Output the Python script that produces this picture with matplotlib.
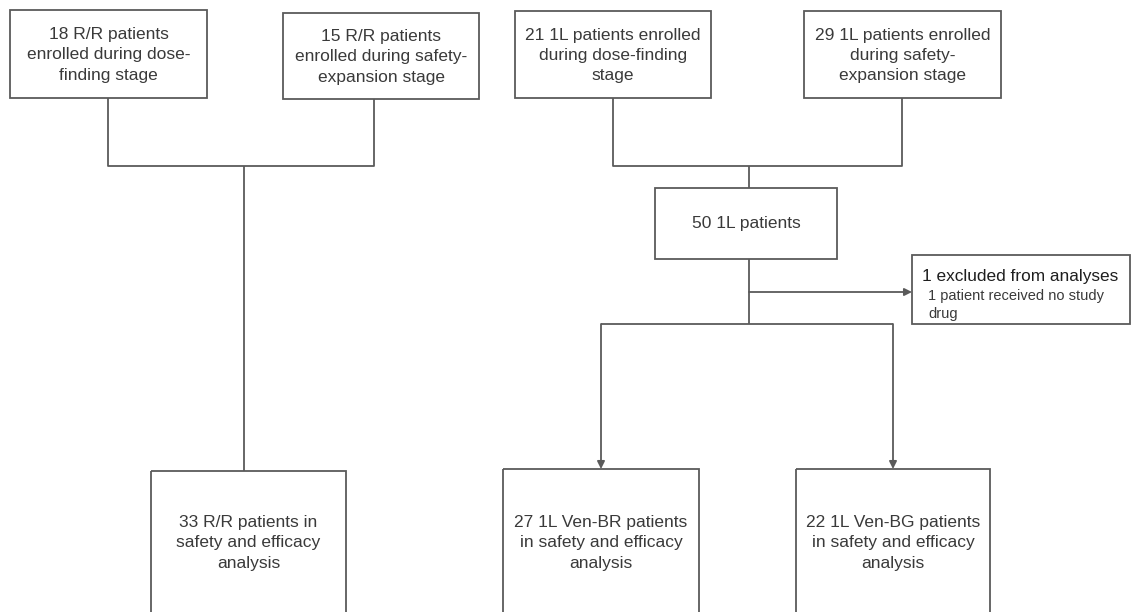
import matplotlib.pyplot as plt
from matplotlib.patches import Rectangle

# box texts
top_labels = [
    "18 R/R patients\nenrolled during dose-\nfinding stage",
    "15 R/R patients\nenrolled during safety-\nexpansion stage",
    "21 1L patients enrolled\nduring dose-finding\nstage",
    "29 1L patients enrolled\nduring safety-\nexpansion stage",
]
pooled_label = "50 1L patients"
excluded_title = "1 excluded from analyses"
excluded_detail = "1 patient received no study\ndrug"
bottom_labels = [
    "33 R/R patients in\nsafety and efficacy\nanalysis",
    "27 1L Ven-BR patients\nin safety and efficacy\nanalysis",
    "22 1L Ven-BG patients\nin safety and efficacy\nanalysis",
]

# layout in pixels (x0, y0, x1, y1), y grows downward
top_boxes = [(10, 10, 207, 98), (283, 13, 479, 99), (515, 11, 711, 98), (804, 11, 1001, 98)]
pooled_box = (655, 188, 837, 259)
excluded_box = (912, 255, 1130, 324)
bottom_boxes = [(151, 471, 346, 625), (503, 469, 699, 625), (796, 469, 990, 625)]

line_col = "#5a5a5a"
text_col = "#3a3a3a"
lw = 1.3

plt.rcParams['font.family'] = ['Liberation Sans', 'DejaVu Sans']

fig = plt.figure(figsize=(11.32, 6.12), dpi=100)
ax = fig.add_axes([0, 0, 1, 1])
ax.set_xlim(0, 1132)
ax.set_ylim(612, 0)
ax.axis('off')


def box(b):
    x0, y0, x1, y1 = b
    ax.add_patch(Rectangle((x0, y0), x1 - x0, y1 - y0, fill=False,
                           edgecolor=line_col, linewidth=lw))


def seg(xs, ys):
    ax.plot(xs, ys, color=line_col, linewidth=lw, solid_capstyle='butt')


def arrow(x0, y0, x1, y1):
    ax.annotate("", xy=(x1, y1), xytext=(x0, y0),
                arrowprops=dict(arrowstyle='-|>', color=line_col, lw=lw,
                                mutation_scale=11, shrinkA=0, shrinkB=0))


def center(b):
    return (b[0] + b[2]) / 2, (b[1] + b[3]) / 2


for b, lab in zip(top_boxes, top_labels):
    box(b)
    cx, cy = center(b)
    ax.text(cx, cy + 1, lab, ha='center', va='center', fontsize=12.5,
            color=text_col, linespacing=1.45)

# R/R bracket
bracket_y = 166
seg([108, 108, 374, 374], [98, bracket_y, bracket_y, 99])
seg([244, 244], [bracket_y, 471])

# 1L bracket
seg([613, 613, 902, 902], [98, bracket_y, bracket_y, 98])
seg([749, 749], [bracket_y, 188])

box(pooled_box)
cx, cy = center(pooled_box)
ax.text(cx, cy, pooled_label, ha='center', va='center', fontsize=12.5, color=text_col)

# from pooled box down
seg([749, 749], [259, 324])
arrow(749, 292, 912, 292)
seg([601, 893], [324, 324])
arrow(601, 324, 601, 469)
arrow(893, 324, 893, 469)

box(excluded_box)
ax.text(922, 276, excluded_title, ha='left', va='center', fontsize=12.4, color="#1e1e1e")
ax.text(928, 305, excluded_detail, ha='left', va='center', fontsize=10.5,
        color=text_col, linespacing=1.4)

for b, lab in zip(bottom_boxes, bottom_labels):
    box(b)
    cx = (b[0] + b[2]) / 2
    ax.text(cx, 543, lab, ha='center', va='center', fontsize=12.5,
            color=text_col, linespacing=1.45)

fig.savefig("out.png", dpi=100)
